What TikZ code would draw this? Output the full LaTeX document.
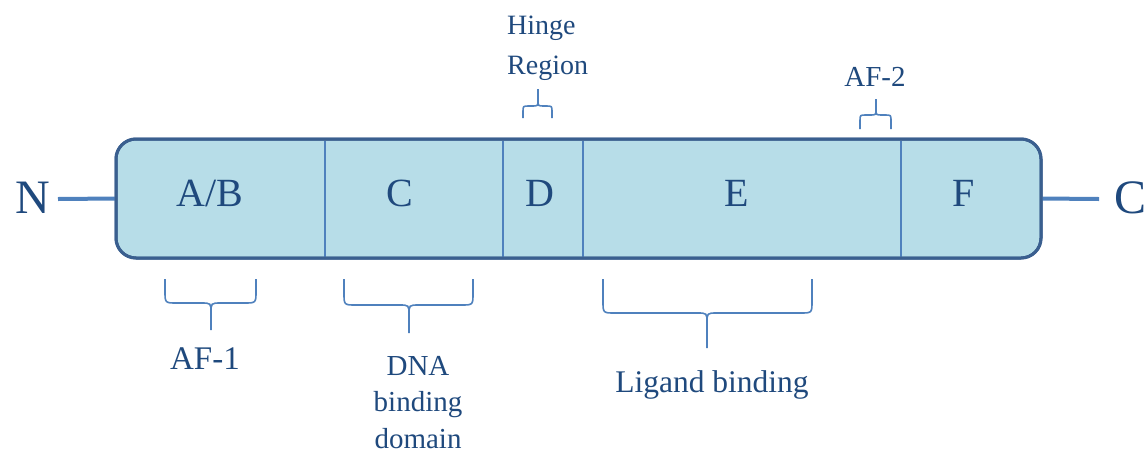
\documentclass[tikz,border=0pt]{standalone}
\usepackage{fontspec}
\setmainfont{Liberation Serif}
\definecolor{txtblue}{HTML}{1F497D}
\definecolor{boxborder}{HTML}{3A5F8F}
\definecolor{boxfill}{HTML}{B7DDE8}
\definecolor{midblue}{HTML}{4F81BD}
\tikzset{
  brace/.style={draw=midblue, line width=1.6pt},
  divider/.style={draw=midblue, line width=1.4pt},
  term/.style={draw=midblue, line width=4pt},
  lbl/.style={text=txtblue, inner sep=0pt, anchor=base},
}
\newcommand\bracedn[6]{% x1 x2 xt ytop yh ybot
  \draw[brace] (#1,#4) -- (#1,#5-12) .. controls (#1,#5) .. (#1+12,#5) -- (#3-10,#5) .. controls (#3,#5) .. (#3,#5+10) -- (#3,#6);
  \draw[brace] (#2,#4) -- (#2,#5-12) .. controls (#2,#5) .. (#2-12,#5) -- (#3+10,#5) .. controls (#3,#5) .. (#3,#5+10);
}
\newcommand\braceup[6]{% x1 x2 xt ybot yh ytop
  \draw[brace] (#1,#4) -- (#1,#5+6) .. controls (#1,#5) .. (#1+6,#5) -- (#3-6,#5) .. controls (#3,#5) .. (#3,#5-6) -- (#3,#6);
  \draw[brace] (#2,#4) -- (#2,#5+6) .. controls (#2,#5) .. (#2-6,#5) -- (#3+6,#5) .. controls (#3,#5) .. (#3,#5-6);
}
\begin{document}
\begin{tikzpicture}[x=1pt,y=-1pt]
\useasboundingbox (0,0) rectangle (1147,453);
% terminal lines
\coordinate (nend) at (58,199);
\coordinate (cend) at (1099,199);
\node[draw=boxborder, line width=3pt, fill=boxfill, rounded corners=20pt,
      minimum width=925pt, minimum height=119pt, inner sep=0pt, outer sep=0pt] (box) at (578.5,198.5) {};
\draw[term] (nend) -- (box.west);
\draw[term] (box.east) -- (cend);
% dividers
\foreach \x/\n in {325/d1,503/d2,583/d3,901/d4}{
  \coordinate (\n t) at (\x,140.5);
  \coordinate (\n b) at (\x,256.5);
  \draw[divider] (\n t) -- (\n b);
}
\draw[draw=boxborder, line width=3pt, rounded corners=20pt] (116,139) rectangle (1041,258);
% domain letters
\begin{scope}[every node/.style={lbl, font=\fontsize{40}{40}\selectfont}]
\node (ab) at (210,206) {A/B};
\node (c) at (400,206) {C};
\node (d) at (540,206) {D};
\node (e) at (737,206) {E};
\node (f) at (964,206) {F};
\end{scope}
\node[lbl, font=\fontsize{48}{48}\selectfont] (N) at (33,213) {N};
\node[lbl, font=\fontsize{48}{48}\selectfont] (Cterm) at (1130,213) {C};
% top labels
\node[lbl, anchor=base west, align=left, font=\fontsize{28}{40}\selectfont] (hinge) at (507,74) {Hinge\\Region};
\node[lbl, font=\fontsize{29}{29}\selectfont] (af2) at (875,86) {AF-2};
\braceup{523}{552}{538}{118}{106}{89}
\braceup{860}{891}{876}{129}{115}{99}
% bottom braces and labels
\bracedn{165}{256}{211}{279}{303}{330}
\bracedn{344}{473}{409}{279}{305}{333}
\bracedn{603}{812}{707}{279}{313}{348}
\node[lbl, font=\fontsize{33}{33}\selectfont] (af1) at (205,369) {AF-1};
\node[lbl, align=center, font=\fontsize{29}{36.5}\selectfont] (dna) at (418,448) {DNA\\binding\\domain};
\node[lbl, font=\fontsize{31.5}{31.5}\selectfont] (lig) at (712,392) {Ligand binding};
\end{tikzpicture}
\end{document}
